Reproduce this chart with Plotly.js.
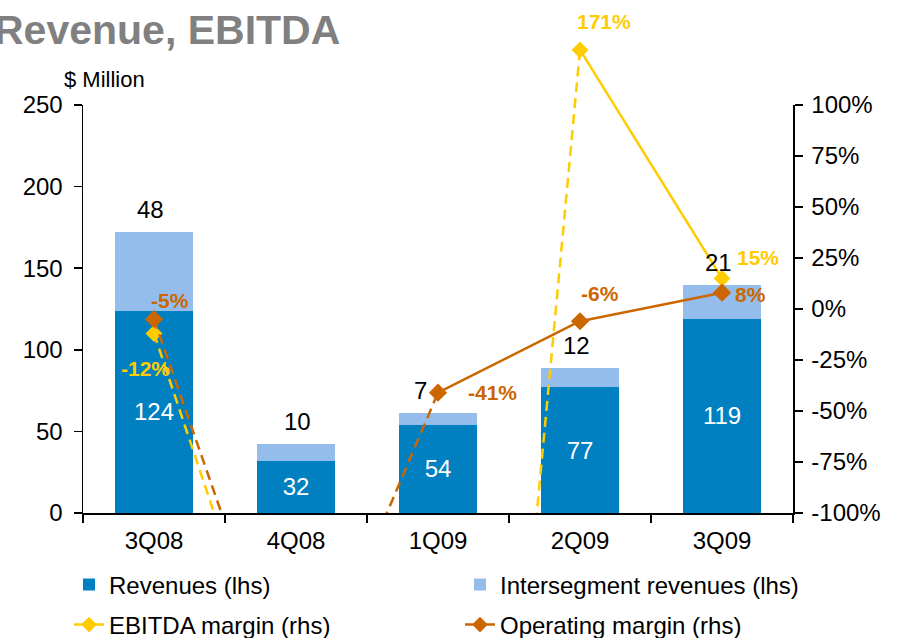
<!DOCTYPE html>
<html><head><meta charset="utf-8">
<script src="https://cdn.plot.ly/plotly-3.0.1.min.js"></script>
<style>html,body{margin:0;padding:0;background:#fff}#chart{width:903px;height:638px}</style>
</head><body><div id="chart"></div>
<script>
// ---- data ----
const categories = ['3Q08', '4Q08', '1Q09', '2Q09', '3Q09'];
const revenues = [124, 32, 54, 77, 119];
const intersegmentRevenues = [48, 10, 7, 12, 21];
const ebitdaMargin = [-12, -220, -620, 171, 15];     // 4Q08, 1Q09 far below the rhs scale (estimated)
const operatingMargin = [-5, -205, -41, -6, 8];      // 4Q08 far below the rhs scale (estimated)
const rhsTicks = [-100, -75, -50, -25, 0, 25, 50, 75, 100];

// ---- style ----
const FONT = 'Arial, "Liberation Sans", sans-serif';
const C_REV = '#0080C0', C_INT = '#95BDEB', C_EB = '#FFCC00', C_OP = '#CC6600';
const W = 903, H = 638;
const M = {l: 83, r: 110, t: 40, b: 125, autoexpand: false};
const plotW = W - M.l - M.r, plotH = H - M.t - M.b;
const barAreaTopPx = 105;
const yDomTop = (H - M.b - barAreaTopPx) / plotH;
const RHS_MIN = -100, RHS_MAX = 100;
const y3Top = RHS_MIN + (RHS_MAX - RHS_MIN) / yDomTop;
// values above the rhs scale are drawn at the top edge of the chart, as in the source
const DISPLAY_CAP = 127;
const px = v => (v - M.l) / plotW;
const py = v => (H - M.b - v) / plotH;

// label offsets (pixels) per point
const ebShift = [[-9, -35], null, null, [24, 28], [36, 21]];
const opShift = [[16, 19], null, [54, 0], [20, 28], [28, -2]];
const totalLabelShift = [-4, 1, -18, -4, -4];

const traces = [];
traces.push({
  type: 'bar', name: 'Revenues (lhs)', x: categories, y: revenues,
  marker: {color: C_REV}, text: revenues.map(String), textposition: 'inside',
  insidetextanchor: 'middle', textfont: {family: FONT, size: 24, color: '#fff'},
  xaxis: 'x', yaxis: 'y', legend: 'legend', hoverinfo: 'skip'
});
traces.push({
  type: 'bar', name: 'Intersegment revenues (lhs)', x: categories, y: intersegmentRevenues,
  marker: {color: C_INT}, xaxis: 'x', yaxis: 'y', legend: 'legend', hoverinfo: 'skip'
});
// keeps the right-hand axis drawn
traces.push({type: 'scatter', mode: 'markers', x: [null], y: [null], xaxis: 'x', yaxis: 'y2',
  showlegend: false, hoverinfo: 'skip'});

const annotations = [];
const totals = revenues.map((v, i) => v + intersegmentRevenues[i]);
totals.forEach((t, i) => {
  annotations.push({
    xref: 'x', yref: 'y', x: categories[i], y: t, text: String(intersegmentRevenues[i]),
    showarrow: false, yanchor: 'bottom', yshift: 7, xshift: totalLabelShift[i],
    font: {family: FONT, size: 24, color: '#000'}
  });
});

function addSeries(vals, color, name, shifts, markerSize) {
  const disp = vals.map(v => Math.min(v, DISPLAY_CAP));
  for (let i = 0; i < vals.length - 1; i++) {
    const dashed = Math.min(vals[i], vals[i + 1]) < RHS_MIN;
    traces.push({
      type: 'scatter', mode: 'lines', x: [categories[i], categories[i + 1]], y: [disp[i], disp[i + 1]],
      line: {color: color, width: 2.5, dash: dashed ? '10px,6px' : 'solid'},
      xaxis: 'x2', yaxis: 'y3', showlegend: false, hoverinfo: 'skip'
    });
  }
  const idx = vals.map((v, i) => i).filter(i => vals[i] >= RHS_MIN);
  traces.push({
    type: 'scatter', mode: 'markers', x: idx.map(i => categories[i]), y: idx.map(i => disp[i]),
    marker: {symbol: 'diamond', size: markerSize, color: color},
    xaxis: 'x2', yaxis: 'y3', showlegend: false, hoverinfo: 'skip', cliponaxis: false
  });
  idx.forEach(i => {
    const s = shifts[i] || [0, 0];
    annotations.push({
      xref: 'x2', yref: 'y3', x: categories[i], y: disp[i], text: '<b>' + vals[i] + '%</b>',
      showarrow: false, xshift: s[0], yshift: s[1], font: {family: FONT, size: 21, color: color}
    });
  });
  traces.push({
    type: 'scatter', mode: 'lines+markers', name: name, x: [null], y: [null],
    line: {color: color, width: 2.5}, marker: {symbol: 'diamond', size: 12, color: color},
    xaxis: 'x2', yaxis: 'y3', legend: 'legend2'
  });
}
addSeries(ebitdaMargin, C_EB, 'EBITDA margin (rhs)', ebShift, 13);
addSeries(operatingMargin, C_OP, 'Operating margin (rhs)', opShift, 14);

annotations.push({
  xref: 'paper', yref: 'paper', x: px(-8), y: py(30), xanchor: 'left', yanchor: 'middle',
  text: '<b>Revenue, EBITDA</b>', showarrow: false, font: {family: FONT, size: 41, color: '#808080'}
});
annotations.push({
  xref: 'paper', yref: 'paper', x: px(62), y: py(80), xanchor: 'left', yanchor: 'middle',
  text: '$ Million', showarrow: false, font: {family: FONT, size: 22, color: '#000'}
});

const axisCommon = {
  showline: true, linecolor: '#000', linewidth: 1.5, ticks: 'outside', ticklen: 8,
  tickcolor: '#000', tickwidth: 1.5, showgrid: false, zeroline: false,
  tickfont: {family: FONT, size: 24, color: '#000'}, fixedrange: true
};
const legendCommon = {
  orientation: 'h', xanchor: 'left', yanchor: 'middle', entrywidth: 346, entrywidthmode: 'pixels',
  font: {family: FONT, size: 24, color: '#000'}, bgcolor: 'rgba(0,0,0,0)', traceorder: 'normal'
};

const layout = {
  width: W, height: H, margin: M, paper_bgcolor: '#fff', plot_bgcolor: 'rgba(0,0,0,0)',
  barmode: 'stack', bargap: 0.45, showlegend: true, font: {family: FONT},
  xaxis: Object.assign({}, axisCommon, {type: 'category', domain: [0, 1], range: [-0.5, 4.5],
    anchor: 'y', tickson: 'boundaries', ticklabelstandoff: 6, categoryorder: 'array', categoryarray: categories}),
  yaxis: Object.assign({}, axisCommon, {domain: [0, yDomTop], range: [0, 250], dtick: 50, tick0: 0,
    anchor: 'x', ticklabelstandoff: 6}),
  yaxis2: Object.assign({}, axisCommon, {overlaying: 'y', side: 'right', anchor: 'x',
    range: [RHS_MIN, RHS_MAX], tickmode: 'array', tickvals: rhsTicks,
    ticktext: rhsTicks.map(v => v + '%'), ticklabelstandoff: 4}),
  xaxis2: {type: 'category', domain: [0, 1], range: [-0.5, 4.5], anchor: 'y3', visible: false,
    categoryorder: 'array', categoryarray: categories, fixedrange: true},
  yaxis3: {domain: [0, 1], range: [RHS_MIN, y3Top], anchor: 'x2', visible: false, fixedrange: true},
  legend: Object.assign({}, legendCommon, {x: px(69), y: py(585)}),
  legend2: Object.assign({}, legendCommon, {x: px(69), y: py(625)}),
  annotations: annotations
};

Plotly.newPlot('chart', traces, layout, {displayModeBar: false, staticPlot: true});
</script></body></html>
